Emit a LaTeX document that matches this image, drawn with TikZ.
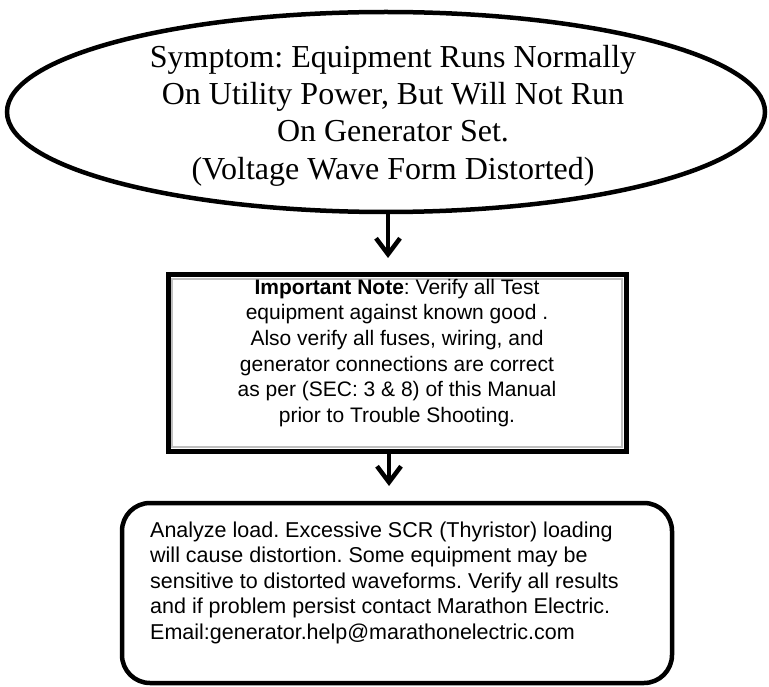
\documentclass[tikz,border=0pt]{standalone}
\usepackage{fontspec}
\setmainfont{Liberation Serif}
\newfontfamily\arialfont{Liberation Sans}
\usetikzlibrary{shapes.geometric,arrows.meta}
\tikzset{
  flowarrow/.style={line width=4.5pt,-{Straight Barb[length=16pt,width=24pt,line width=4.5pt]}},
  outline/.style={line width=4.5pt,draw=black},
}
\frenchspacing
\begin{document}
\begin{tikzpicture}[x=1pt,y=-1pt]
\useasboundingbox (0,0) rectangle (769,687);
% ellipse
\node[ellipse,outline,minimum width=758pt,minimum height=200pt,inner sep=0pt] (sym) at (386,112) {};
\node[anchor=north,align=center,font=\fontsize{32}{37.3}\selectfont,inner sep=0pt] (symtext) at (393,37)
 {\rule{0pt}{30pt}Symptom: Equipment Runs Normally\\On Utility Power, But Will Not Run\\On Generator Set.\\(Voltage Wave Form Distorted)};
% note box
\node[draw=black,line width=5pt,minimum width=458pt,minimum height=176pt,inner sep=0pt] (note) at (397,363) {};
\draw[draw=black!25,line width=1.5pt] ([shift={(6.5,6.5)}]note.north west) rectangle ([shift={(-6.5,-6.5)}]note.south east);
\node[anchor=north,align=center,font=\arialfont\fontsize{21}{25.6}\selectfont,inner sep=0pt] (notetext) at (397,272)
 {\rule{0pt}{22pt}\textbf{Important Note}: Verify all Test\\equipment against known good .\\Also verify all fuses, wiring, and\\generator connections are correct\\as per (SEC: 3 \& 8) of this Manual\\prior to Trouble Shooting.};
% action box
\node[draw=black,line width=4.5pt,rounded corners=28pt,minimum width=550pt,minimum height=180pt,inner sep=0pt] (act) at (397,593) {};
\node[align=left,anchor=north west,font=\arialfont\fontsize{21.5}{25.5}\selectfont,inner sep=0pt] (acttext) at (150,515)
 {\rule{0pt}{22pt}Analyze load. Excessive SCR (Thyristor) loading\\will cause distortion. Some equipment may be\\sensitive to distorted waveforms. Verify all results\\and if problem persist contact Marathon Electric.\\Email:generator.help@marathonelectric.com};
% arrows
\coordinate (a1) at (388,258);
\coordinate (a2) at (389,486);
\draw[flowarrow] (sym.south -| a1) -- (a1);
\draw[flowarrow] (note.south -| a2) -- (a2);
\end{tikzpicture}
\end{document}
